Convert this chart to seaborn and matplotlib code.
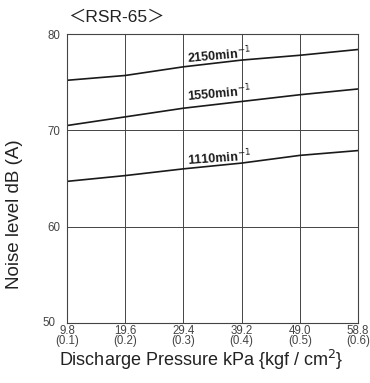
import matplotlib
matplotlib.use("Agg")
import matplotlib.pyplot as plt
import seaborn as sns
import pandas as pd

pressure = [9.8, 19.6, 29.4, 39.2, 49.0, 58.8]
xtick_labels = ["9.8\n(0.1)", "19.6\n(0.2)", "29.4\n(0.3)", "39.2\n(0.4)", "49.0\n(0.5)", "58.8\n(0.6)"]
noise_2150 = [75.2, 75.7, 76.6, 77.3, 77.8, 78.4]
noise_1550 = [70.5, 71.4, 72.3, 73.0, 73.7, 74.3]
noise_1110 = [64.7, 65.3, 66.0, 66.6, 67.4, 67.9]
speeds = ["2150", "1550", "1110"]

sns.set_theme(style="white")
plt.rcParams['font.family'] = ['Liberation Sans', 'Noto Sans CJK JP', 'DejaVu Sans']

df = pd.DataFrame({
    "p": pressure * 3,
    "noise": noise_2150 + noise_1550 + noise_1110,
    "speed": [speeds[0]] * 6 + [speeds[1]] * 6 + [speeds[2]] * 6,
})

fig = plt.figure(figsize=(3.7, 3.83), dpi=100)
ax = fig.add_axes([0.181, 0.157, 0.787, 0.754])
sns.lineplot(data=df, x="p", y="noise", hue="speed", palette=["#1a1a1a"] * 3,
             legend=False, ax=ax, linewidth=1.2)

ax.set_xlim(9.8, 58.8)
ax.set_ylim(50, 80)
ax.set_xticks(pressure)
ax.set_xticklabels(xtick_labels, fontsize=8.3, color="#444444", linespacing=0.82)
ax.set_yticks([50, 60, 70, 80])
ax.set_yticklabels(["", "60", "70", "80"], fontsize=8.3, color="#444444")
ax.text(-0.04, 0.0, "50", transform=ax.transAxes, ha="right", va="center", fontsize=8.3, color="#444444")
ax.tick_params(axis="x", length=0, pad=1.5)
ax.tick_params(axis="y", length=0, pad=5)
ax.grid(True, color="#444444", linewidth=0.7)
for s in ax.spines.values():
    s.set_color("#444444")
    s.set_linewidth(0.8)

ax.set_xlabel("Discharge Pressure kPa {kgf / cm$^2$}", fontsize=13, color="#222222")
ax.xaxis.set_label_coords(0.46, -0.087)
ax.set_ylabel("Noise level dB (A)", fontsize=13.5, color="#222222")
ax.yaxis.set_label_coords(-0.15, 0.377)

fig.text(0.183, 0.955, "＜RSR-65＞", fontsize=12.5, color="#222222", ha="left", va="center")

label_pos = [(35.5, 77.85, 5), (35.5, 73.9, 5), (35.5, 67.1, 4)]
for sp, (x, y, rot) in zip(speeds, label_pos):
    ax.text(x, y, sp + "min$^{-1}$", fontsize=9, fontweight="bold", color="#1a1a1a",
            ha="center", va="center", rotation=rot)

fig.savefig("out.png", dpi=100)
